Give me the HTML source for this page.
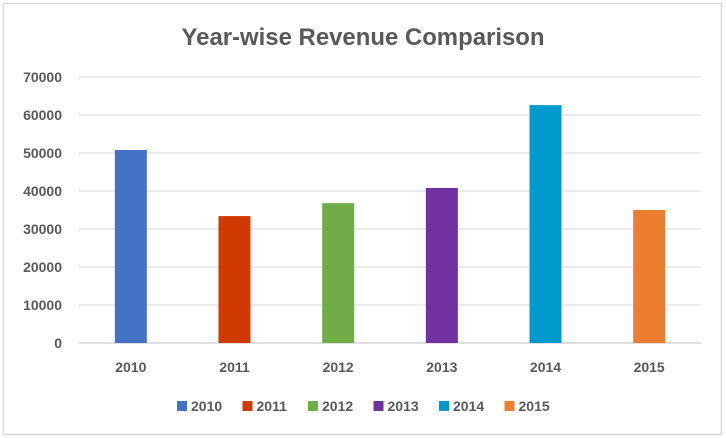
<!DOCTYPE html>
<html><head><meta charset="utf-8"><style>
html,body{margin:0;padding:0;background:#fff;}
svg{display:block;font-family:"Liberation Sans",sans-serif;}
</style></head><body>
<svg id="chart" width="726" height="438" viewBox="0 0 726 438">
<rect x="3.5" y="3.5" width="718" height="431" fill="#fff" stroke="#d9d9d9" stroke-width="1.5"/>
<text x="363" y="45" text-anchor="middle" font-size="24" font-weight="bold" fill="#595959" textLength="363" lengthAdjust="spacingAndGlyphs">Year-wise Revenue Comparison</text>
<g id="grid"></g><g id="bars"></g><g id="xlabels"></g><g id="legend"></g>
</svg>
<script>
const categories = ["2010","2011","2012","2013","2014","2015"];
const revenue = [50800, 33400, 36800, 40800, 62600, 35000];
const yTicks = [0,10000,20000,30000,40000,50000,60000,70000];
const colors = ["#4472c4","#d03a00","#70ad47","#7030a0","#0099cc","#ed7d31"];
const NS="http://www.w3.org/2000/svg";
const x0=79, x1=701, yBase=343, yTop=77, yMax=70000;
const y=v=>yBase-(v/yMax)*(yBase-yTop);
const band=(x1-x0)/categories.length;
const xc=i=>x0+band*(i+0.5);
function mk(t,a,p){const e=document.createElementNS(NS,t);for(const k in a)e.setAttribute(k,a[k]);p.appendChild(e);return e;}
const grid=document.getElementById('grid');
yTicks.forEach(v=>{
  const l=mk('line',{x1:x0,x2:x1,y1:y(v),y2:y(v),stroke:v===0?'#bfbfbf':'#d9d9d9','stroke-width':1},grid);
  
  
  const t=mk('text',{x:62,y:y(v)+5,'text-anchor':'end','font-size':14,'font-weight':'bold',fill:'#595959'},grid);
  t.textContent=v;
  
  
});
const bars=document.getElementById('bars'), xl=document.getElementById('xlabels'), lg=document.getElementById('legend');
categories.forEach((c,i)=>{
  const r=mk('rect',{x:xc(i)-16,y:y(revenue[i]),width:32,height:yBase-y(revenue[i]),fill:colors[i]},bars);
  
  
  const t=mk('text',{x:xc(i),y:372,'text-anchor':'middle','font-size':14,'font-weight':'bold',fill:'#595959'},xl);
  t.textContent=c;
  
  
  const lx=177+i*65.5;
  const g=mk('g',{},lg);
  
  
  mk('rect',{x:lx,y:401,width:10,height:10,fill:colors[i]},g);
  const lt=mk('text',{x:lx+14,y:411,'font-size':14,'font-weight':'bold',fill:'#595959'},g);
  lt.textContent=c;
});
</script>
</body></html>
